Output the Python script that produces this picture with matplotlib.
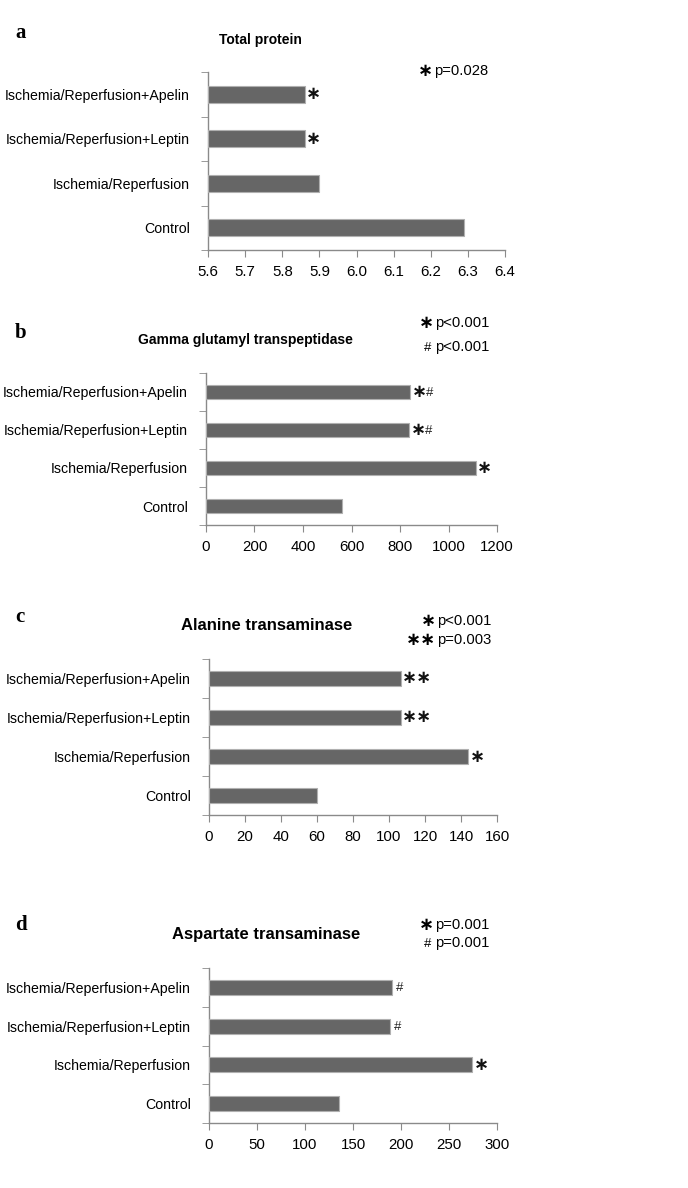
import matplotlib
matplotlib.use("Agg")
import matplotlib.pyplot as plt
from matplotlib import font_manager
import numpy as np

# ── Data ──────────────────────────────────────────────────────────────────────
groups = ["Control", "Ischemia/Reperfusion",
          "Ischemia/Reperfusion+Leptin", "Ischemia/Reperfusion+Apelin"]

total_protein = [6.29, 5.90, 5.86, 5.86]
ggt = [560, 1112, 838, 843]
alt = [60, 144, 106.5, 106.5]
ast = [135, 274, 189, 191]

tp_marks = ["", "", "∗", "∗"]
ggt_marks = ["", "∗", "∗#", "∗#"]
alt_marks = ["", "∗", "∗∗", "∗∗"]
ast_marks = ["", "∗", "#", "#"]

tp_ticks = [5.6, 5.7, 5.8, 5.9, 6.0, 6.1, 6.2, 6.3, 6.4]
ggt_ticks = [0, 200, 400, 600, 800, 1000, 1200]
alt_ticks = [0, 20, 40, 60, 80, 100, 120, 140, 160]
ast_ticks = [0, 50, 100, 150, 200, 250, 300]

# ── Styling ───────────────────────────────────────────────────────────────────
installed = {f.name for f in font_manager.fontManager.ttflist}
if "Liberation Sans Narrow" in installed:
    NARROW, LBL = ["Liberation Sans Narrow", "DejaVu Sans"], 12.5
else:
    NARROW, LBL = ["Liberation Sans", "DejaVu Sans"], 10.2
BAR = "#666666"
EDGE = "#b0b0b0"
SPINE = "#8a8a8a"
STAR = 13
W, H = 688, 1188

fig = plt.figure(figsize=(W / 100, H / 100), dpi=100)


def px_axes(left, top, right, bottom):
    return fig.add_axes([left / W, 1 - bottom / H, (right - left) / W, (bottom - top) / H])


def draw_mark(ax, m, v, yi):
    stars = m.count("∗")
    hashes = m.count("#")
    offset = 1.0
    if stars:
        ax.annotate("∗" * stars, (v, yi), xytext=(offset, 0), textcoords="offset points",
                    ha="left", va="center", fontsize=STAR, fontweight="bold",
                    family=["DejaVu Sans"], color="#111111")
        offset += 0.838 * STAR * stars - 2.0
    if hashes:
        ax.annotate("#", (v, yi), xytext=(offset + 1.5, -0.5), textcoords="offset points",
                    ha="left", va="center", fontsize=9.5, family=NARROW, color="#222222")


def panel(box, values, marks, ticks, fmt, title, tsize, title_xy, letter_xy):
    ax = px_axes(*box)
    y = np.arange(len(groups))
    ax.barh(y, [v - ticks[0] for v in values], left=ticks[0], height=0.39,
            color=BAR, edgecolor=EDGE, linewidth=0.8, zorder=3)
    ax.set_xlim(ticks[0], ticks[-1])
    ax.set_ylim(-0.5, len(groups) - 0.5)
    ax.set_xticks(ticks)
    ax.set_xticklabels([fmt(t) for t in ticks], family=NARROW, fontsize=LBL + 0.6)
    ax.set_yticks(y)
    ax.set_yticklabels(groups, family=NARROW, fontsize=LBL)
    ax.set_yticks(np.arange(-0.5, len(groups)), minor=True)
    ax.tick_params(axis="y", which="major", length=0, pad=13)
    ax.tick_params(axis="y", which="minor", length=5, color=SPINE, direction="out")
    ax.tick_params(axis="x", length=5, color=SPINE, direction="out", pad=6)
    for s in ["top", "right"]:
        ax.spines[s].set_visible(False)
    for s in ["left", "bottom"]:
        ax.spines[s].set_color(SPINE)
        ax.spines[s].set_linewidth(1.0)
    for yi, v, m in zip(y, values, marks):
        if m:
            draw_mark(ax, m, v, yi)
    fig.text(title_xy[0] / W, 1 - title_xy[1] / H, title, ha="center", va="center",
             fontsize=tsize, fontweight="bold", family=["Liberation Sans", "DejaVu Sans"])
    fig.text(letter_xy[0] / W, 1 - letter_xy[1] / H, letter_xy[2], ha="left", va="center",
             fontsize=15, fontweight="bold", family=["Liberation Serif", "DejaVu Serif"])
    return ax


def legend(entries, x, ys):
    for (sym, txt), yy in zip(entries, ys):
        if "∗" in sym:
            fig.text((x - 1) / W, 1 - yy / H, sym, ha="right", va="center",
                     fontsize=STAR, fontweight="bold", family=["DejaVu Sans"])
        else:
            fig.text((x - 4) / W, 1 - (yy + 1) / H, sym, ha="right", va="center",
                     fontsize=9.5, family=NARROW)
        fig.text(x / W, 1 - yy / H, txt, ha="left", va="center",
                 fontsize=LBL + 0.4, family=NARROW)


one = lambda t: f"{t:.1f}"
whole = lambda t: f"{t:g}"

panel((208, 72, 505, 250), total_protein, tp_marks, tp_ticks, one,
      "Total protein", 10, (260, 40), (15, 33, "a"))
legend([("∗", "p=0.028")], 434, [71])

panel((206, 373, 497, 525), ggt, ggt_marks, ggt_ticks, whole,
      "Gamma glutamyl transpeptidase", 10, (245, 340), (15, 333, "b"))
legend([("∗", "p<0.001"), ("#", "p<0.001")], 435, [323, 347])

panel((209, 659, 497, 815), alt, alt_marks, alt_ticks, whole,
      "Alanine transaminase", 12, (267, 625), (15, 617, "c"))
legend([("∗", "p<0.001"), ("∗∗", "p=0.003")], 437, [621, 640])

panel((209, 968, 497, 1123), ast, ast_marks, ast_ticks, whole,
      "Aspartate transaminase", 12, (266, 934), (15, 925, "d"))
legend([("∗", "p=0.001"), ("#", "p=0.001")], 435, [925, 943])

fig.savefig("out.png", dpi=100, facecolor="white")
